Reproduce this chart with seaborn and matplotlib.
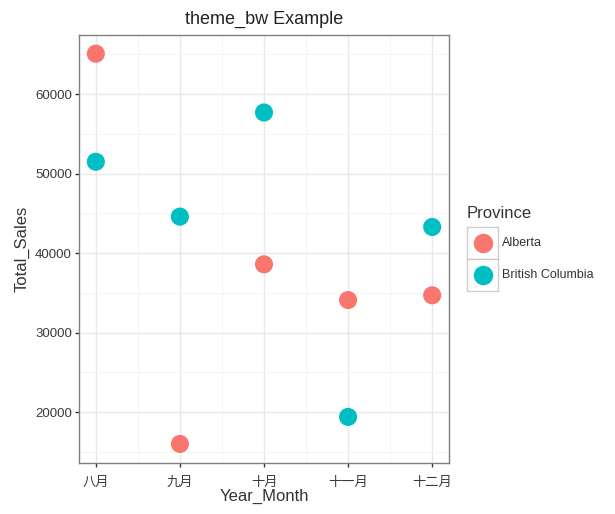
import pandas as pd
import matplotlib.pyplot as plt
import seaborn as sns
from matplotlib.patches import Rectangle
from matplotlib.lines import Line2D

# data
months = ['八月', '九月', '十月', '十一月', '十二月']
alberta = [65100, 16000, 38600, 34100, 34700]
british_columbia = [51500, 44600, 57700, 19400, 43300]
provinces = ['Alberta', 'British Columbia']
colors = ['#F8766D', '#00BFC4']

df = pd.DataFrame({
    'Year_Month': months * 2,
    'Total_Sales': alberta + british_columbia,
    'Province': [provinces[0]] * 5 + [provinces[1]] * 5,
})
df['x'] = [months.index(m) for m in df['Year_Month']]

sns.set_theme(style='white')
plt.rcParams['font.family'] = ['Liberation Sans', 'Noto Sans CJK SC']

fig = plt.figure(figsize=(6.15, 5.14), dpi=100)
ax = fig.add_axes([79 / 615, 1 - 463 / 514, 370 / 615, 428 / 514])

sns.scatterplot(data=df, x='x', y='Total_Sales', hue='Province',
                palette=colors, s=170, edgecolor='none', legend=False,
                ax=ax, zorder=3)

ax.set_xlim(-0.2, 4.2)
ax.set_ylim(13600, 67450)
ax.set_xticks(range(len(months)))
ax.set_xticklabels(months, family=['Noto Sans CJK SC', 'DejaVu Sans'])
ax.set_yticks([20000, 30000, 40000, 50000, 60000])
ax.set_xticks([0.5, 1.5, 2.5, 3.5], minor=True)
ax.set_yticks([15000, 25000, 35000, 45000, 55000, 65000], minor=True)
ax.grid(which='major', color='#e8e8e8', linewidth=1.0)
ax.grid(which='minor', color='#f3f3f3', linewidth=0.6)
ax.set_axisbelow(True)
for sp in ax.spines.values():
    sp.set_color('#7f7f7f')
    sp.set_linewidth(1.0)
ax.tick_params(axis='both', which='major', length=3, width=1, color='#333333',
               labelsize=9.5, labelcolor='#3a3a3a', pad=2, bottom=True, left=True)
ax.tick_params(axis='x', which='major', pad=6)
ax.tick_params(axis='both', which='minor', length=0)

ax.set_xlabel('Year_Month', fontsize=12, color='#333333', labelpad=0)
ax.set_ylabel('Total_Sales', fontsize=12, color='#333333', labelpad=4)
ax.set_title('theme_bw Example', fontsize=13, color='#222222', pad=8)

# legend (ggplot style, boxed keys)
fig.text(467 / 615, 1 - 213 / 514, 'Province', fontsize=12, color='#333333',
         va='center', ha='left')
for i, (p, c) in enumerate(zip(provinces, colors)):
    top = 227 + i * 32
    fig.add_artist(Rectangle((467 / 615, 1 - (top + 32) / 514), 31 / 615, 32 / 514,
                             transform=fig.transFigure, facecolor='white',
                             edgecolor='#cccccc', linewidth=1))
    fig.add_artist(Line2D([482.5 / 615], [1 - (top + 16) / 514], marker='o',
                          markersize=13, color=c, linestyle='none',
                          transform=fig.transFigure))
    fig.text(502 / 615, 1 - (top + 16) / 514, p, fontsize=9, color='#333333',
             va='center', ha='left')

plt.savefig('out.png', dpi=100)
